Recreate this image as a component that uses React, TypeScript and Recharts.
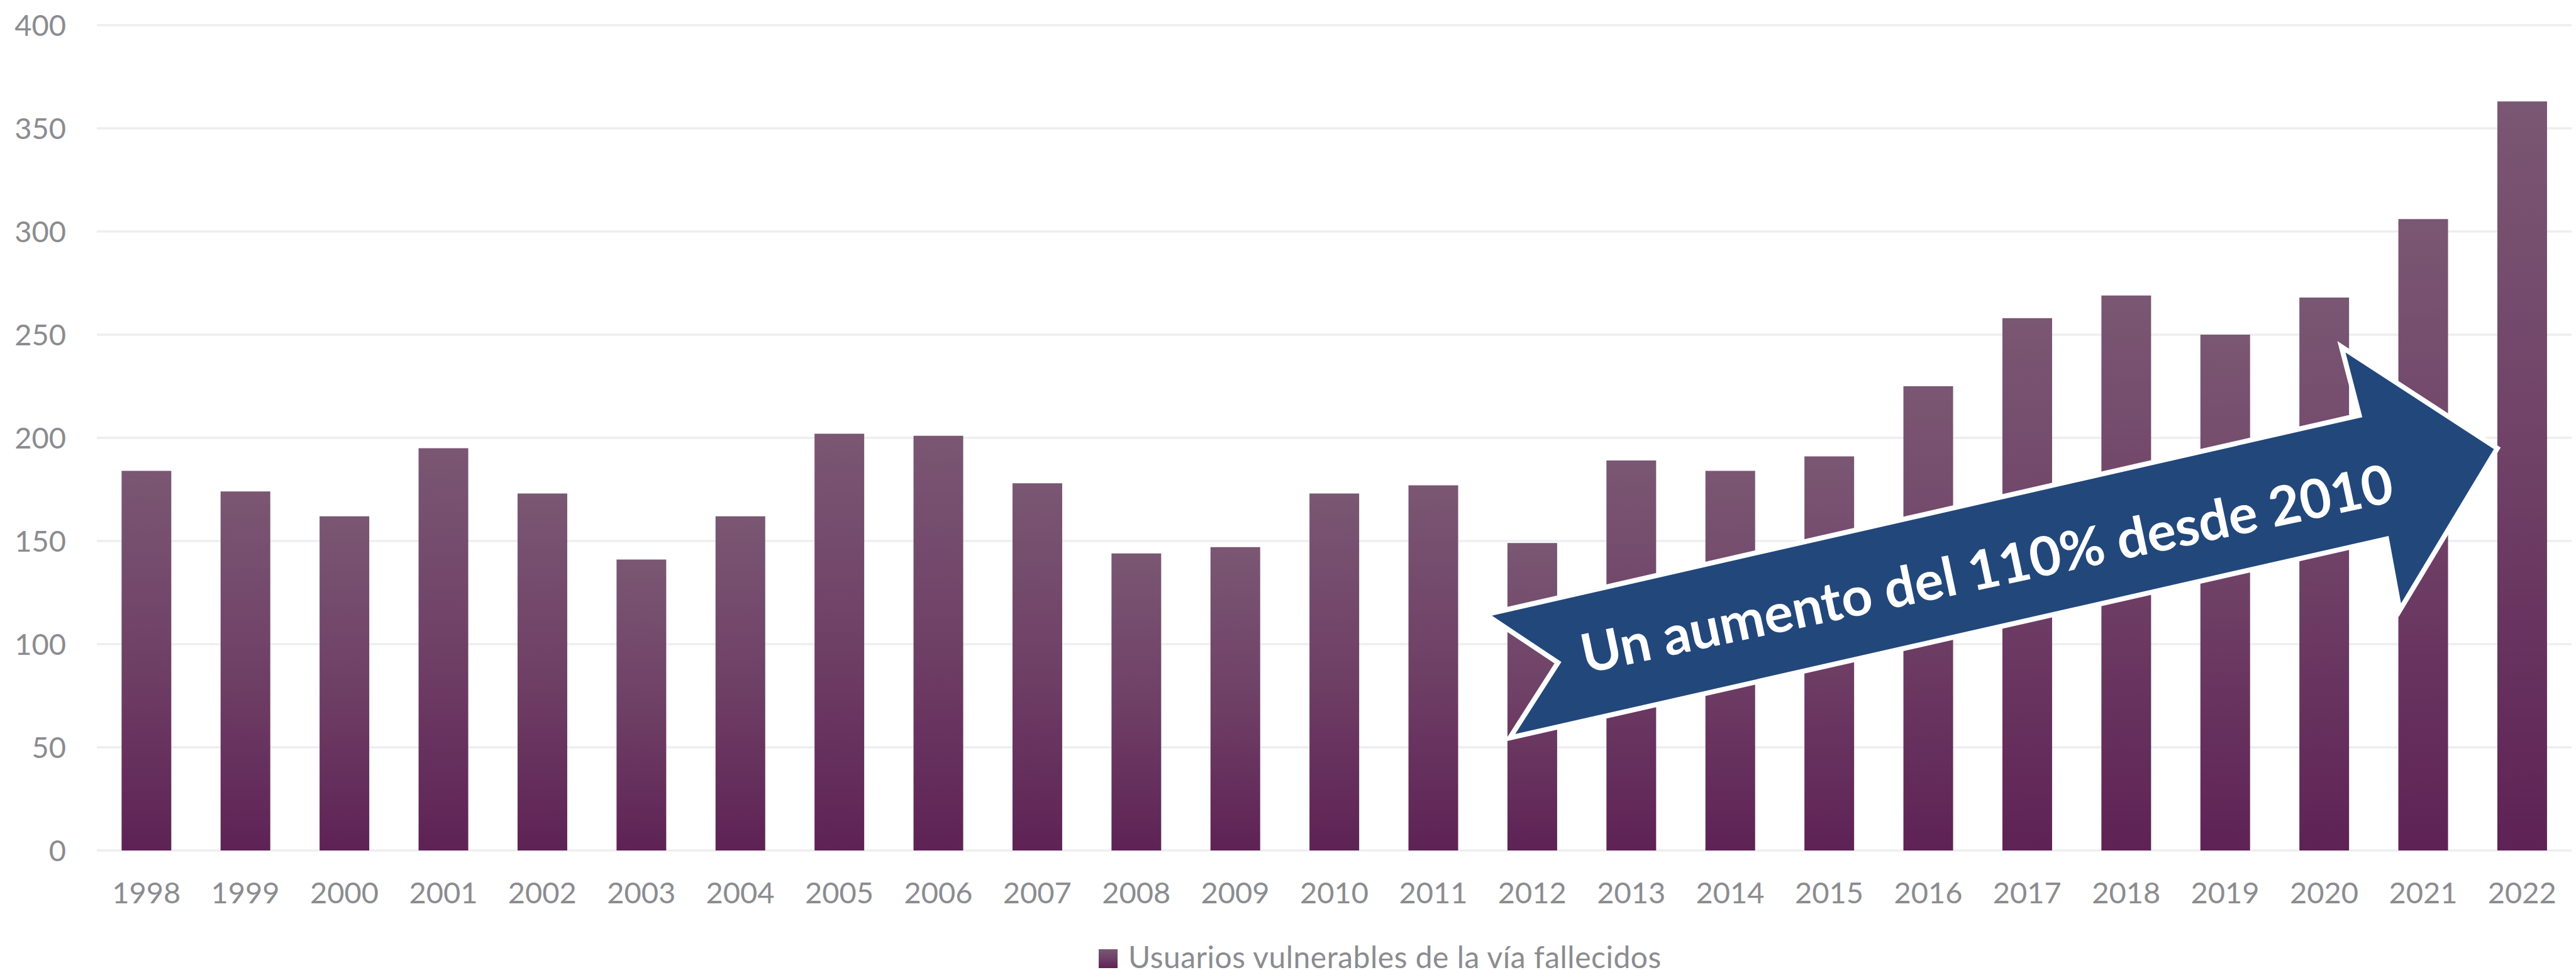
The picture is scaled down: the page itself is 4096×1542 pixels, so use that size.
import React from 'react';
import { BarChart, Bar, XAxis, YAxis, CartesianGrid, ReferenceArea, Legend } from 'recharts';

const years = [
  '1998', '1999', '2000', '2001', '2002', '2003', '2004', '2005', '2006', '2007',
  '2008', '2009', '2010', '2011', '2012', '2013', '2014', '2015', '2016', '2017',
  '2018', '2019', '2020', '2021', '2022',
];
const fallecidos = [
  184, 174, 162, 195, 173, 141, 162, 202, 201, 178,
  144, 147, 173, 177, 149, 189, 184, 191, 225, 258,
  269, 250, 268, 306, 363,
];
const yTicks = [0, 50, 100, 150, 200, 250, 300, 350, 400];
const seriesName = 'Usuarios vulnerables de la vía fallecidos';
const arrowText = 'Un aumento del 110% desde 2010';

// Annotation arrow outline in chart units: [category index, value]
const arrowOutline: [number, number][] = [
  [13.53, 114.4],
  [22.355, 210.9],
  [22.175, 244.1],
  [23.749, 194.9],
  [22.764, 116.4],
  [22.631, 151.0],
  [13.774, 54.6],
  [14.26, 91.0],
];
const arrowLabelAt: [number, number] = [18.633, 127.5];

const data = years.map((year, i) => ({ year, value: fallecidos[i] }));

const Y_MAX = 400;
const TICK_COLOR = '#8b8c90';

const ArrowShape = (props: any) => {
  const { x, y, width, height } = props;
  const step = width / years.length;
  const px = (i: number) => x + (i + 0.5) * step;
  const py = (v: number) => y + (height * (Y_MAX - v)) / Y_MAX;
  const pts = arrowOutline.map(([i, v]) => `${px(i)},${py(v)}`).join(' ');
  const tx = px(arrowLabelAt[0]);
  const ty = py(arrowLabelAt[1]);
  return (
    <g>
      <polygon points={pts} fill="#22477b" stroke="#ffffff" strokeWidth={8} strokeLinejoin="miter" strokeMiterlimit={10} />
      <text
        x={tx}
        y={ty}
        transform={`rotate(-12 ${tx} ${ty})`}
        textAnchor="middle"
        fill="#ffffff"
        fontFamily="Lato"
        fontWeight={700}
        fontSize={86}
      >
        {arrowText}
      </text>
    </g>
  );
};

const LegendContent = () => (
  <div style={{ position: 'relative', height: 48, width: 1200 }}>
    <svg width={30} height={30} style={{ position: 'absolute', left: 0, top: 15 }}>
      <rect x={0} y={0} width={30} height={30} fill="url(#barGrad)" />
    </svg>
    <span
      style={{
        position: 'absolute',
        left: 47,
        top: 3,
        fontFamily: 'Lato',
        fontSize: 48,
        letterSpacing: 0.5,
        lineHeight: '48px',
        color: TICK_COLOR,
        whiteSpace: 'nowrap',
      }}
    >
      {seriesName}
    </span>
  </div>
);

export default function App() {
  const tickStyle = { fill: TICK_COLOR, fontSize: 47, fontFamily: 'Lato' };
  const refAreaProps: any = { zIndex: 2000 };
  return (
    <div style={{ position: 'absolute', left: 0, top: 0, width: 4096, height: 1542, background: '#ffffff' }}>
      <svg width={0} height={0} style={{ position: 'absolute' }}>
        <defs>
          <linearGradient id="barGrad" x1="0" y1="0" x2="0" y2="1">
            <stop offset="0%" stopColor="#7a5773" />
            <stop offset="50%" stopColor="#6f4066" />
            <stop offset="100%" stopColor="#5e2255" />
          </linearGradient>
        </defs>
      </svg>
      <BarChart
        width={4096}
        height={1542}
        data={data}
        margin={{ top: 40, right: 7, bottom: 0, left: 0 }}
        barCategoryGap="25%"
      >
        <CartesianGrid vertical={false} stroke="#eeeef0" strokeWidth={3.4} />
        <XAxis
          dataKey="year"
          axisLine={false}
          tickLine={false}
          tickSize={0}
          tickMargin={51}
          height={142}
          interval={0}
          tick={tickStyle}
        />
        <YAxis
          domain={[0, Y_MAX]}
          ticks={yTicks}
          axisLine={false}
          tickLine={false}
          tickSize={0}
          tickMargin={49}
          width={154}
          tick={tickStyle}
        />
        <Bar dataKey="value" name={seriesName} fill="url(#barGrad)" isAnimationActive={false} />
        <ReferenceArea y1={0} y2={Y_MAX} ifOverflow="visible" shape={<ArrowShape />} {...refAreaProps} />
        <Legend
          verticalAlign="bottom"
          content={<LegendContent />}
          wrapperStyle={{ left: 1747, bottom: 0, width: 1200, height: 48 }}
        />
      </BarChart>
    </div>
  );
}
